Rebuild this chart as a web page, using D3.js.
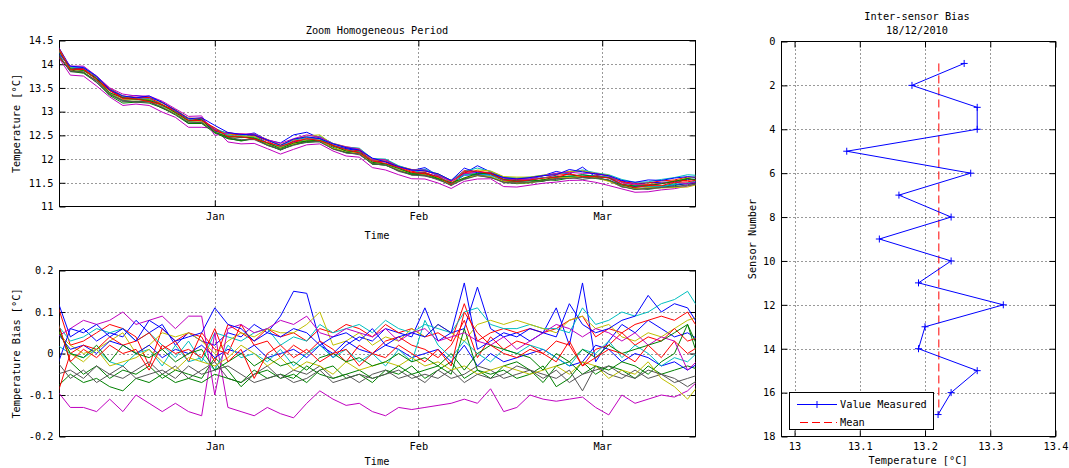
<!DOCTYPE html>
<html>
<head>
<meta charset="utf-8">
<script src="https://cdn.jsdelivr.net/npm/d3@7"></script>
<style>
  body { margin: 0; background: #fff; }
  svg text { font-family: "DejaVu Sans Mono", monospace; font-size: 10.3px; fill: #000; }
</style>
</head>
<body>
<svg id="chart" width="1069" height="468"></svg>
<script>
// sample dates (every 2 days)
const dates = [
  "2010-12-08","2010-12-10","2010-12-12","2010-12-14","2010-12-16","2010-12-18","2010-12-20","2010-12-22","2010-12-24","2010-12-26","2010-12-28","2010-12-30",
  "2011-01-01","2011-01-03","2011-01-05","2011-01-07","2011-01-09","2011-01-11","2011-01-13","2011-01-15","2011-01-17","2011-01-19","2011-01-21","2011-01-23","2011-01-25","2011-01-27","2011-01-29","2011-01-31",
  "2011-02-02","2011-02-04","2011-02-06","2011-02-08","2011-02-10","2011-02-12","2011-02-14","2011-02-16","2011-02-18","2011-02-20","2011-02-22","2011-02-24","2011-02-26","2011-02-28",
  "2011-03-02","2011-03-04","2011-03-06","2011-03-08","2011-03-10","2011-03-12","2011-03-14","2011-03-16"
];

// mean temperature of all sensors
const meanTemp = [
  14.28, 13.90, 13.88, 13.68, 13.42, 13.27, 13.26, 13.25, 13.13, 13.00, 12.81, 12.82,
  12.60, 12.49, 12.46, 12.48, 12.35, 12.25, 12.36, 12.42, 12.41, 12.28, 12.19, 12.16, 11.96, 11.92, 11.80, 11.72,
  11.71, 11.62, 11.50, 11.64, 11.70, 11.67, 11.56, 11.54, 11.55, 11.60, 11.63, 11.66, 11.66, 11.64,
  11.59, 11.47, 11.42, 11.42, 11.45, 11.48, 11.52, 11.55
];

// bias of each sensor from the mean, sensors 1..17
const sensorBias = [
  [0.13,0.04,0.06,0.03,0.05,0.04,0.08,0.05,0.07,0.02,0.05,0.03, 0.02,0.05,0.04,0.07,0.05,0.09,0.15,0.145,0.03,-0.01,0.02,0.04,0.03,0.06,0.05,0.04, 0.11,0.03,0.05,0.06,0.16,0.06,0.04,0.05,0.03,0.05,0.11,0.02,0.17,-0.02, 0.03,0.07,0.05,0.08,0.06,0.04,0.05,0.03],
  [0.08,-0.02,-0.05,-0.03,-0.06,-0.04,-0.05,-0.03,-0.06,-0.04,-0.05,-0.06, -0.01,-0.04,-0.08,-0.05,-0.04,-0.06,-0.05,-0.07,-0.04,-0.03,-0.06,-0.05,-0.07,-0.04,-0.05,-0.03, -0.06,-0.04,-0.02,-0.06,-0.04,-0.05,-0.04,-0.06,-0.05,-0.03,-0.08,-0.06,-0.02,-0.05, -0.03,-0.04,-0.06,-0.03,-0.05,-0.04,-0.03,-0.04],
  [0.12,0.02,0.03,0.05,0.07,0.06,0.04,-0.03,0.06,0.03,0.05,0.04, -0.02,0.07,0.05,0.03,0.06,0.04,0.05,0.03,0.06,0.05,0.07,0.06,0.04,0.07,0.05,0.06, 0.04,0.05,0.03,0.12,0.03,0.05,0.06,0.05,0.06,0.05,0.06,0.08,0.09,0.04, 0.06,0.05,0.07,0.08,0.09,0.08,0.10,0.05],
  [0.07,0.03,0.04,0.06,0.05,0.06,0.03,0.05,0.02,-0.01,0.03,-0.02, 0.05,0.04,0.03,0.05,0.06,0.02,0.04,0.03,0.07,0.05,0.06,0.07,0.05,0.08,0.06,0.05, 0.07,0.06,0.05,0.10,0.11,0.07,0.06,0.06,0.07,0.06,0.06,0.05,0.11,0.07, 0.08,0.10,0.09,0.10,0.12,0.13,0.15,0.10],
  [-0.09,-0.13,-0.13,-0.14,-0.11,-0.14,-0.10,-0.12,-0.14,-0.12,-0.14,-0.15, 0.05,-0.13,-0.14,-0.15,-0.13,-0.145,-0.155,-0.12,-0.09,-0.11,-0.125,-0.12,-0.14,-0.15,-0.13,-0.135, -0.13,-0.125,-0.12,-0.11,-0.12,-0.085,-0.14,-0.13,-0.10,-0.11,-0.115,-0.11,-0.105,-0.13, -0.148,-0.10,-0.12,-0.11,-0.10,-0.105,-0.09,-0.06],
  [0.05,0.02,0.00,0.01,0.03,0.05,0.00,0.02,0.05,0.04,0.05,0.03, 0.00,0.03,0.05,0.04,0.06,0.05,0.05,0.07,0.10,0.02,0.03,0.05,0.02,0.04,0.03,0.06, 0.04,0.07,0.05,0.03,0.07,0.08,0.07,0.08,0.07,0.06,0.05,0.08,0.09,0.06, 0.07,0.04,0.03,0.05,0.04,0.06,0.08,0.09],
  [-0.05,-0.04,-0.06,-0.03,-0.05,-0.06,-0.04,-0.02,-0.05,-0.03,-0.06,-0.04, -0.02,-0.06,-0.07,-0.05,-0.03,-0.06,-0.04,-0.05,-0.03,-0.06,-0.05,-0.07,-0.05,-0.04,-0.06,-0.05, -0.07,-0.04,-0.06,-0.05,-0.03,-0.04,-0.06,-0.05,-0.04,-0.05,-0.06,-0.04,-0.09,-0.03, -0.05,-0.06,-0.04,-0.06,-0.05,-0.07,-0.06,-0.05],
  [0.05,0.01,0.02,0.00,0.03,0.02,0.00,0.02,-0.01,0.01,0.00,0.02, -0.01,0.01,0.00,0.02,-0.01,0.00,0.01,-0.01,0.02,0.00,0.03,0.01,0.00,0.02,0.01,-0.01, 0.00,0.01,-0.02,0.02,-0.03,0.00,-0.02,-0.01,0.00,0.01,-0.01,-0.03,-0.02,0.02, 0.01,-0.02,0.00,-0.01,-0.03,-0.02,-0.04,-0.02],
  [-0.08,-0.05,-0.07,-0.06,-0.08,-0.09,-0.06,-0.07,-0.05,-0.07,-0.06,-0.07, -0.05,-0.06,-0.07,-0.04,-0.06,-0.05,-0.06,-0.03,-0.05,-0.06,-0.05,-0.04,-0.06,-0.05,-0.03,-0.05, -0.04,-0.03,-0.05,0.06,-0.04,-0.06,-0.03,-0.02,-0.04,-0.07,-0.03,-0.02,-0.05,-0.03, -0.04,-0.02,-0.03,-0.05,-0.02,0.00,0.07,-0.03],
  [-0.10,0.00,0.02,0.01,0.04,0.02,0.03,0.05,0.01,0.03,-0.02,0.05, 0.01,0.00,0.07,0.02,0.03,-0.01,0.02,0.00,0.03,0.01,-0.02,0.02,0.00,0.03,0.04,0.02, 0.01,-0.01,0.02,0.08,-0.01,0.04,0.01,0.03,0.02,0.00,0.03,0.02,-0.03,0.01, 0.02,0.05,0.02,0.04,0.03,0.06,0.03,0.04],
  [0.02,0.00,-0.01,0.01,-0.02,-0.03,0.00,0.01,-0.03,0.02,-0.02,-0.01, -0.04,0.02,-0.01,0.00,-0.02,0.01,-0.03,0.00,0.02,-0.01,0.01,-0.02,0.00,-0.03,0.01,-0.02, 0.08,0.02,-0.01,0.03,0.00,-0.02,0.01,0.00,0.02,0.01,-0.01,-0.03,0.01,0.00, 0.03,-0.01,0.02,0.00,-0.03,-0.01,-0.02,0.01],
  [0.04,0.06,0.08,0.07,0.08,0.10,0.07,0.08,0.09,0.06,0.09,0.09, -0.10,0.06,0.07,0.05,0.06,0.08,0.07,0.09,0.05,0.04,0.06,0.05,0.04,0.06,0.03,0.05, 0.06,0.03,0.04,0.05,0.03,0.02,0.04,0.01,0.03,0.05,0.07,0.06,0.04,0.06, 0.05,0.03,0.05,0.02,0.04,0.03,-0.04,-0.01],
  [0.06,0.00,-0.02,0.01,-0.03,-0.02,-0.01,0.01,-0.02,-0.04,-0.01,-0.02, -0.03,-0.01,0.02,0.00,-0.03,-0.01,-0.04,-0.02,-0.03,-0.05,-0.02,-0.04,-0.03,-0.02,-0.03,-0.01, -0.03,-0.02,-0.04,-0.03,-0.05,-0.04,-0.03,-0.04,-0.05,-0.04,-0.03,-0.05,-0.02,-0.03, -0.06,-0.04,-0.05,-0.02,-0.06,-0.08,-0.11,-0.07],
  [-0.02,-0.06,-0.04,-0.07,-0.05,-0.03,-0.06,-0.05,-0.04,-0.06,-0.03,-0.05, -0.04,-0.03,-0.05,-0.07,-0.06,-0.05,-0.07,-0.06,-0.04,-0.07,-0.06,-0.05,-0.06,-0.05,-0.04,-0.06, -0.05,-0.06,-0.04,-0.07,-0.05,-0.06,-0.05,-0.03,-0.04,-0.06,-0.04,-0.07,-0.05,-0.04, -0.03,-0.05,-0.06,-0.04,-0.05,-0.06,-0.08,-0.06],
  [-0.03,0.06,0.05,0.07,0.04,0.06,0.03,0.08,0.06,0.03,0.04,0.05, 0.11,0.07,0.06,0.03,0.05,0.04,0.06,0.05,0.02,0.04,0.05,0.03,0.06,0.02,0.04,0.05, 0.04,0.07,0.05,0.17,0.01,0.03,0.05,0.04,0.06,0.05,0.04,0.12,0.07,0.05, 0.06,0.08,0.09,0.14,0.10,0.12,0.11,0.06],
  [0.06,0.00,-0.01,0.02,-0.02,0.02,0.00,-0.01,0.01,-0.02,0.00,0.01, -0.04,-0.02,0.00,-0.03,-0.01,-0.03,-0.02,-0.04,-0.01,0.00,-0.02,-0.01,-0.03,-0.02,0.00,-0.02, -0.01,-0.03,0.00,-0.04,0.00,0.02,0.01,0.00,-0.01,-0.04,0.00,-0.02,0.01,-0.01, 0.02,0.00,0.01,0.02,0.03,0.05,0.07,0.00],
  [0.08,-0.02,0.01,-0.01,0.02,0.00,0.01,-0.04,0.02,0.00,0.01,-0.01, 0.06,-0.02,0.01,-0.06,0.00,0.02,-0.01,0.01,-0.02,0.00,0.01,-0.03,0.00,-0.01,0.02,0.00, -0.02,0.01,-0.03,0.10,0.05,0.02,0.00,-0.01,0.01,0.00,-0.02,0.03,-0.03,-0.01, 0.01,0.00,-0.02,0.02,-0.01,0.03,0.00,0.02]
];

// inter-sensor values on 18/12/2010
const sensorIds = [1, 2, 3, 4, 5, 6, 7, 8, 9, 10, 11, 12, 13, 14, 15, 16, 17];
const sensorTempDay = [13.26, 13.18, 13.28, 13.28, 13.08, 13.27, 13.16, 13.24, 13.13, 13.24, 13.19, 13.32, 13.20, 13.19, 13.28, 13.24, 13.22];

// ticks
const monthTicks = ["2011-01-01", "2011-02-01", "2011-03-01"];
const monthLabels = ["Jan", "Feb", "Mar"];
const tempTicks = [11, 11.5, 12, 12.5, 13, 13.5, 14, 14.5];
const biasTicks = [-0.2, -0.1, 0, 0.1, 0.2];
const sensorTicks = [0, 2, 4, 6, 8, 10, 12, 14, 16, 18];
const dayTempTicks = [13, 13.1, 13.2, 13.3, 13.4];

const lineColors = ["#0000ff", "#008000", "#ff0000", "#00bfbf", "#bf00bf", "#bfbf00", "#555555"];

const parse = d3.timeParse("%Y-%m-%d");
const time = dates.map(parse);
const months = monthTicks.map(parse);

const svg = d3.select("#chart");

function drawAxes(g, x, y, xVals, yVals, xFmt, yFmt) {
  const [x0, x1] = x.range();
  const [y1, y0] = y.range();
  // dotted grid
  g.append("g").selectAll("line")
    .data(yVals.filter(v => y(v) > y0 + 1 && y(v) < y1 - 1))
    .enter().append("line")
    .attr("x1", x0).attr("x2", x1)
    .attr("y1", d => Math.round(y(d)) + 0.5).attr("y2", d => Math.round(y(d)) + 0.5)
    .attr("stroke", "#333").attr("stroke-dasharray", "1,3");
  g.append("g").selectAll("line")
    .data(xVals.filter(v => x(v) > x0 + 1 && x(v) < x1 - 1))
    .enter().append("line")
    .attr("x1", d => Math.round(x(d)) + 0.5).attr("x2", d => Math.round(x(d)) + 0.5)
    .attr("y1", y0).attr("y2", y1)
    .attr("stroke", "#333").attr("stroke-dasharray", "1,3");

  // ticks on all four sides, pointing inward
  g.append("g").attr("transform", `translate(${x0},0)`)
    .call(d3.axisLeft(y).tickValues(yVals).tickSize(-6).tickPadding(6).tickFormat(yFmt));
  g.append("g").attr("transform", `translate(${x1},0)`)
    .call(d3.axisRight(y).tickValues(yVals).tickSize(-6).tickFormat(""));
  g.append("g").attr("transform", `translate(0,${y1})`)
    .call(d3.axisBottom(x).tickValues(xVals).tickSize(-6).tickPadding(6).tickFormat(xFmt));
  g.append("g").attr("transform", `translate(0,${y0})`)
    .call(d3.axisTop(x).tickValues(xVals).tickSize(-6).tickFormat(""));
  g.selectAll(".domain").remove();
  g.selectAll(".tick line").attr("stroke", "#000");

  g.append("rect")
    .attr("x", x0).attr("y", y0)
    .attr("width", x1 - x0).attr("height", y1 - y0)
    .attr("fill", "none").attr("stroke", "#000");
}

function addClip(id, x, y) {
  const [x0, x1] = x.range();
  const [y1, y0] = y.range();
  svg.append("clipPath").attr("id", id)
    .append("rect").attr("x", x0).attr("y", y0).attr("width", x1 - x0).attr("height", y1 - y0);
}

function drawSeriesPanel(series, yDomain, yTop, yBottom, yVals, yTitle, clipId, timeY) {
  const x = d3.scaleTime()
    .domain([new Date(2010, 11, 8, 8, 24), new Date(2011, 2, 15, 5, 0)])
    .range([59.5, 695.5]);
  const y = d3.scaleLinear().domain(yDomain).range([yBottom, yTop]);
  const g = svg.append("g");
  addClip(clipId, x, y);

  const monthName = d => monthLabels[months.findIndex(m => +m === +d)];
  drawAxes(g, x, y, months, yVals, monthName, d => String(d));

  const line = d3.line().x((d, i) => x(time[i])).y(d => y(d));
  g.append("g").attr("clip-path", `url(#${clipId})`)
    .selectAll("path")
    .data(series)
    .enter()
    .append("path")
    .attr("d", line)
    .attr("fill", "none")
    .attr("stroke", (d, i) => lineColors[i % lineColors.length])
    .attr("stroke-width", 1);

  g.append("text")
    .attr("x", 377).attr("y", timeY)
    .attr("text-anchor", "middle")
    .text("Time");
  g.append("text")
    .attr("transform", `translate(20,${(yTop + yBottom) / 2}) rotate(-90)`)
    .attr("text-anchor", "middle")
    .text(yTitle);
}

// top panel: temperature of every sensor = mean + bias
const sensorTemp = sensorBias.map(b => b.map((v, i) => meanTemp[i] + v));
drawSeriesPanel(sensorTemp, [11, 14.5], 40.5, 206.5, tempTicks, "Temperature [°C]", "clipTop", 239);
svg.append("text")
  .attr("x", 377).attr("y", 34)
  .attr("text-anchor", "middle")
  .text("Zoom Homogeneous Period");

// bottom panel: bias
drawSeriesPanel(sensorBias, [-0.2, 0.2], 270.5, 436.5, biasTicks, "Temperature Bias [°C]", "clipBottom", 465);

// right panel: inter-sensor bias profile
function drawProfile() {
  const x = d3.scaleLinear().domain([12.98, 13.4]).range([781.5, 1055.5]);
  const y = d3.scaleLinear().domain([18, 0]).range([436.5, 41.5]);
  const g = svg.append("g");
  drawAxes(g, x, y, dayTempTicks, sensorTicks, d => String(d), d => String(d));

  const mean = d3.mean(sensorTempDay);
  g.append("line")
    .attr("x1", x(mean)).attr("x2", x(mean))
    .attr("y1", y(sensorIds[0])).attr("y2", y(sensorIds[sensorIds.length - 1]))
    .attr("stroke", "#ff0000").attr("stroke-dasharray", "8,4");

  const line = d3.line().x(d => x(d[1])).y(d => y(d[0]));
  const pts = sensorIds.map((s, i) => [s, sensorTempDay[i]]);
  g.append("path")
    .attr("d", line(pts))
    .attr("fill", "none").attr("stroke", "#0000ff");
  g.selectAll("path.mark")
    .data(pts)
    .enter()
    .append("path")
    .attr("class", "mark")
    .attr("d", d => `M${x(d[1]) - 3.5},${y(d[0])}H${x(d[1]) + 3.5}M${x(d[1])},${y(d[0]) - 3.5}V${y(d[0]) + 3.5}`)
    .attr("stroke", "#0000ff").attr("fill", "none");

  // legend
  const lg = g.append("g");
  lg.append("rect")
    .attr("x", 789.5).attr("y", 392.5).attr("width", 144).attr("height", 37)
    .attr("fill", "#fff").attr("stroke", "#000");
  lg.append("line").attr("x1", 797).attr("x2", 837).attr("y1", 404.5).attr("y2", 404.5).attr("stroke", "#0000ff");
  lg.append("path").attr("d", "M813.5,404.5H820.5M817,401V408").attr("stroke", "#0000ff");
  lg.append("text").attr("x", 840).attr("y", 408).text("Value Measured");
  lg.append("line").attr("x1", 800).attr("x2", 837).attr("y1", 422.5).attr("y2", 422.5)
    .attr("stroke", "#ff0000").attr("stroke-dasharray", "8,4");
  lg.append("text").attr("x", 840).attr("y", 426).text("Mean");

  svg.append("text").attr("x", 917).attr("y", 20).attr("text-anchor", "middle").text("Inter-sensor Bias");
  svg.append("text").attr("x", 917).attr("y", 34).attr("text-anchor", "middle").text("18/12/2010");
  svg.append("text").attr("x", 918).attr("y", 464).attr("text-anchor", "middle").text("Temperature [°C]");
  svg.append("text")
    .attr("transform", `translate(756,${(41.5 + 436.5) / 2}) rotate(-90)`)
    .attr("text-anchor", "middle")
    .text("Sensor Number");
}
drawProfile();
</script>
</body>
</html>
